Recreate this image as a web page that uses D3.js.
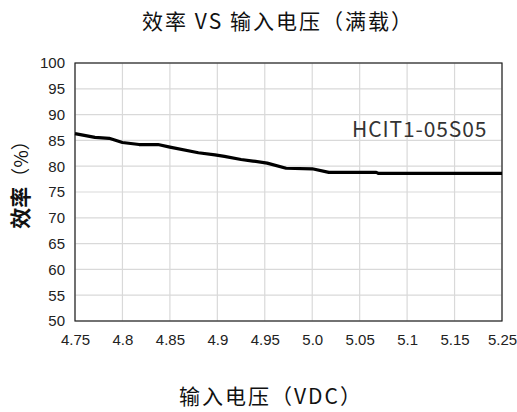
<!DOCTYPE html>
<html>
<head>
<meta charset="utf-8">
<script src="https://cdn.jsdelivr.net/npm/d3@7"></script>
<style>
  html, body { margin: 0; padding: 0; background: #fff; }
  svg { display: block; }
</style>
</head>
<body>
<svg id="chart" width="517" height="412"></svg>
<script>
// Category labels along the input-voltage axis (evenly spaced)
const xLabels = ["4.75", "4.8", "4.85", "4.9", "4.95", "5.0", "5.05", "5.1", "5.15", "5.25"];
// Efficiency axis ticks (%)
const yTicks = [50, 55, 60, 65, 70, 75, 80, 85, 90, 95, 100];
// Measured curve: position along the category axis (0 = first label) and efficiency (%)
const curvePos = [0, 0.42, 0.72, 1.0, 1.35, 1.75, 2.0, 2.6, 2.95, 3.15, 3.5, 3.75, 4.05, 4.45, 5.0, 5.35, 6.35, 6.4, 9];
const curveEff = [86.3, 85.6, 85.4, 84.6, 84.2, 84.2, 83.7, 82.6, 82.2, 81.9, 81.3, 81.0, 80.6, 79.6, 79.5, 78.8, 78.8, 78.6, 78.6];
const seriesName = "HCIT1-05S05";

const svg = d3.select("#chart");
const m = { left: 75, right: 502, top: 63, bottom: 321 };

const x = d3.scaleLinear().domain([0, xLabels.length - 1]).range([m.left, m.right]);
const y = d3.scaleLinear().domain([50, 100]).range([m.bottom, m.top]);

const tickFont = "'Liberation Sans', Arial, sans-serif";
const cjkFont = "'Noto Sans CJK SC', sans-serif";

// Grid lines
svg.append("g")
  .selectAll("line")
  .data(yTicks)
  .join("line")
  .attr("x1", m.left).attr("x2", m.right)
  .attr("y1", d => y(d)).attr("y2", d => y(d))
  .attr("stroke", "#d9d9d9").attr("stroke-width", 1.2);

svg.append("g")
  .selectAll("line")
  .data(d3.range(xLabels.length))
  .join("line")
  .attr("x1", d => x(d)).attr("x2", d => x(d))
  .attr("y1", m.top).attr("y2", m.bottom)
  .attr("stroke", "#d9d9d9").attr("stroke-width", 1.2);

// Plot frame
svg.append("rect")
  .attr("x", m.left).attr("y", m.top)
  .attr("width", m.right - m.left).attr("height", m.bottom - m.top)
  .attr("fill", "none").attr("stroke", "#222").attr("stroke-width", 1.2);

// Y axis
const yAxis = svg.append("g")
  .attr("transform", `translate(${m.left},0)`)
  .call(d3.axisLeft(y).tickValues(yTicks).tickSize(0).tickPadding(10));
yAxis.select(".domain").remove();
yAxis.selectAll("text")
  .attr("font-family", tickFont).attr("font-size", 15).attr("fill", "#222");

// X axis
const xAxis = svg.append("g")
  .attr("transform", `translate(0,${m.bottom})`)
  .call(d3.axisBottom(x).tickValues(d3.range(xLabels.length))
    .tickFormat(i => xLabels[i]).tickSize(0).tickPadding(13));
xAxis.select(".domain").remove();
xAxis.selectAll("text")
  .attr("font-family", tickFont).attr("font-size", 15).attr("fill", "#222");

// Efficiency curve
const pts = curvePos.map((p, i) => [p, curveEff[i]]);
svg.append("path")
  .datum(pts)
  .attr("fill", "none")
  .attr("stroke", "#000")
  .attr("stroke-width", 3.2)
  .attr("stroke-linejoin", "round")
  .attr("d", d3.line().x(d => x(d[0])).y(d => y(d[1])));

// Series annotation
svg.append("text")
  .attr("x", 352).attr("y", 137)
  .attr("font-family", cjkFont).attr("font-size", 21)
  .attr("letter-spacing", 0.9)
  .attr("fill", "#333")
  .text(seriesName);

// Titles
svg.append("text")
  .attr("x", 278).attr("y", 29)
  .attr("text-anchor", "middle")
  .attr("font-family", cjkFont).attr("font-size", 21)
  .attr("letter-spacing", 2)
  .attr("fill", "#111")
  .text("效率 VS 输入电压（满载）");

svg.append("text")
  .attr("x", 271).attr("y", 404)
  .attr("text-anchor", "middle")
  .attr("font-family", cjkFont).attr("font-size", 21)
  .attr("letter-spacing", 2)
  .attr("fill", "#111")
  .text("输入电压（VDC）");

const yTitle = svg.append("text")
  .attr("transform", "translate(28,180) rotate(-90)")
  .attr("text-anchor", "middle")
  .attr("font-family", cjkFont)
  .attr("fill", "#111");
yTitle.append("tspan").attr("font-size", 21).attr("font-weight", "bold").text("效率");
yTitle.append("tspan").attr("font-size", 19).text("（%）");
</script>
</body>
</html>
